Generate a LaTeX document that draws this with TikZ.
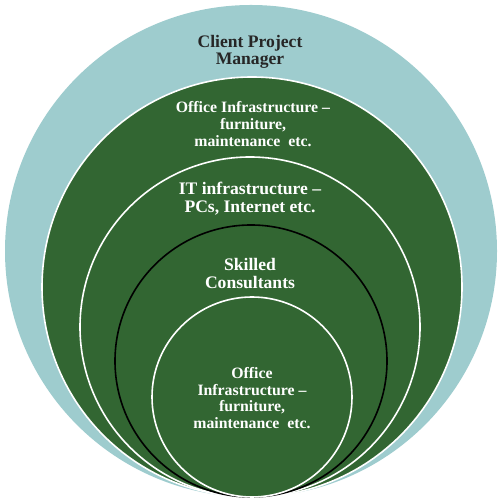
\documentclass[tikz,border=0pt]{standalone}
\usepackage{fontspec}
\setmainfont{Liberation Serif}
\usepackage{tikz}

\definecolor{tealbg}{RGB}{158,204,206}
\definecolor{ringgreen}{RGB}{50,102,50}

\begin{document}
\begin{tikzpicture}[x=1pt, y=1pt,
  ring/.style={fill=ringgreen, line width=1.6pt},
  lbl/.style={align=center, inner sep=0pt, font=\bfseries\fontsize{15.8}{16.6}\selectfont},
  biglbl/.style={lbl, font=\bfseries\fontsize{17.6}{17.4}\selectfont}]
  \useasboundingbox (0,0) rectangle (500,500);
  \fill[tealbg] (251,249) circle [radius=246pt];
  \draw[ring, draw=white] (252,213) circle [radius=210pt];
  \draw[ring, draw=white] (250,173) circle [radius=170pt];
  \draw[ring, draw=black] (251,139) circle [radius=136pt];
  \draw[ring, draw=white] (252,103) circle [radius=100pt];
  \node[biglbl, text=black!85] (cpm) at (250,448) {Client Project\\Manager};
  \node[lbl, text=white] (office) at (253,376) {Office Infrastructure --\\furniture,\\maintenance\ \ etc.};
  \node[biglbl, text=white] (itinfra) at (250,301.5) {IT infrastructure --\\PCs, Internet etc.};
  \node[biglbl, text=white] (skilled) at (250,226.5) {Skilled\\Consultants};
  \node[lbl, text=white] (officein) at (252,102) {Office\\Infrastructure --\\furniture,\\maintenance\ \ etc.};
\end{tikzpicture}
\end{document}
